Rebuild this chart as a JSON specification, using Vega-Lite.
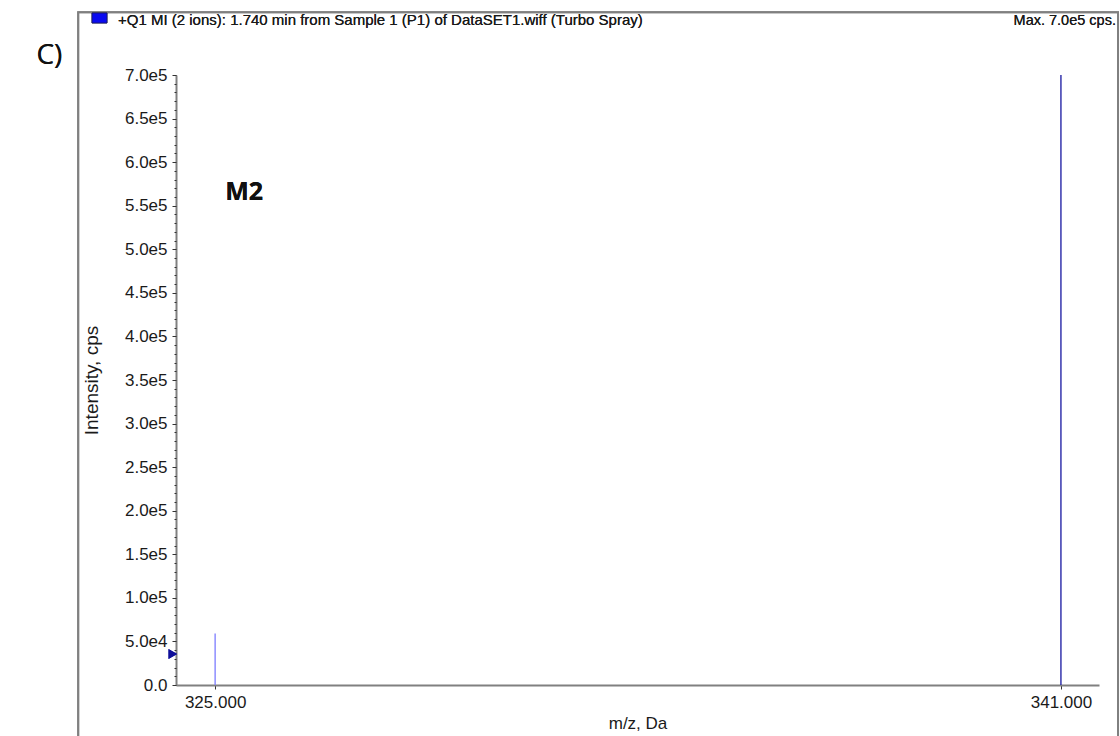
{
  "$schema": "https://vega.github.io/schema/vega-lite/v6.json",
  "width": 923,
  "height": 610,
  "autosize": {"type": "none"},
  "padding": {"left": 176, "top": 75, "right": 21, "bottom": 51},
  "background": "white",
  "config": {
    "view": {"stroke": null},
    "font": "Liberation Sans",
    "text": {"font": "Liberation Sans", "color": "#1a1a1a"}
  },
  "data": {
    "values": [
      {"mz": 325.0, "intensity": 59000, "ion": "light"},
      {"mz": 341.0, "intensity": 700000, "ion": "main"}
    ]
  },
  "resolve": {"axis": {"x": "independent", "y": "independent"}},
  "layer": [
    {
      "mark": {"type": "rule", "strokeWidth": 1.3},
      "encoding": {
        "x": {
          "field": "mz",
          "type": "quantitative",
          "scale": {"domain": [324.26, 341.72], "nice": false, "zero": false},
          "axis": {
            "orient": "bottom",
            "values": [325, 341],
            "format": ".3f",
            "title": "m/z, Da",
            "titleFont": "Liberation Sans",
            "titleFontSize": 17,
            "titleFontWeight": "normal",
            "titleColor": "#1a1a1a",
            "titlePadding": 5,
            "labelFont": "Liberation Sans",
            "labelFontSize": 17,
            "labelColor": "#1a1a1a",
            "labelPadding": 5,
            "labelFlush": false,
            "tickSize": 4,
            "tickColor": "#333333",
            "domainColor": "#808080",
            "domainWidth": 2,
            "grid": false
          }
        },
        "y": {
          "field": "intensity",
          "type": "quantitative",
          "scale": {"domain": [0, 700000], "nice": false},
          "axis": {
            "orient": "left",
            "tickCount": 14,
            "labelExpr": "datum.value == 0 ? '0.0' : replace(format(datum.value, '.1e'), '+', '')",
            "title": "Intensity, cps",
            "titleFont": "Liberation Sans",
            "titleFontSize": 19,
            "titleFontWeight": "normal",
            "titleColor": "#1a1a1a",
            "titlePadding": 23,
            "labelFont": "Liberation Sans",
            "labelFontSize": 17,
            "labelColor": "#1a1a1a",
            "labelPadding": 5,
            "labelFlush": false,
            "tickSize": 4,
            "tickColor": "#333333",
            "domainColor": "#808080",
            "domainWidth": 2,
            "grid": false
          }
        },
        "y2": {"datum": 0},
        "color": {
          "field": "ion",
          "type": "nominal",
          "scale": {"domain": ["light", "main"], "range": ["#7c7cff", "#1616a0"]},
          "legend": null
        }
      }
    },
    {
      "mark": {"type": "rect", "fill": null, "stroke": "#808080", "strokeWidth": 2},
      "encoding": {
        "x": {"datum": 322.41, "type": "quantitative", "axis": null},
        "x2": {"datum": 342.08},
        "y": {"datum": 772000, "type": "quantitative", "axis": null},
        "y2": {"datum": -120000}
      }
    },
    {
      "mark": {"type": "point", "shape": "triangle-right", "filled": true, "size": 100, "color": "#10109a", "opacity": 1},
      "encoding": {
        "x": {"datum": 324.2, "type": "quantitative", "axis": null},
        "y": {
          "datum": 35600,
          "type": "quantitative",
          "axis": {
            "orient": "left",
            "tickCount": 70,
            "labels": false,
            "title": null,
            "tickSize": 2,
            "tickColor": "#333333",
            "domain": false,
            "grid": false
          }
        }
      }
    },
    {
      "mark": {"type": "text", "text": "M2", "font": "Open Sans", "fontSize": 25, "fontWeight": "bold", "align": "left", "baseline": "alphabetic", "color": "#111111"},
      "encoding": {
        "x": {"datum": 325.19, "type": "quantitative", "axis": null},
        "y": {"datum": 556500, "type": "quantitative", "axis": null}
      }
    },
    {
      "mark": {"type": "text", "text": "+Q1 MI (2 ions): 1.740 min from Sample 1 (P1) of DataSET1.wiff (Turbo Spray)", "fontSize": 15, "align": "left", "baseline": "alphabetic"},
      "encoding": {
        "x": {"datum": 323.163, "type": "quantitative", "axis": null},
        "y": {"datum": 757377, "type": "quantitative", "axis": null}
      }
    },
    {
      "mark": {"type": "text", "text": "Max. 7.0e5 cps.", "fontSize": 14.5, "align": "right", "baseline": "alphabetic"},
      "encoding": {
        "x": {"datum": 342.04, "type": "quantitative", "axis": null},
        "y": {"datum": 757377, "type": "quantitative", "axis": null}
      }
    },
    {
      "mark": {"type": "rect", "fill": "#0a0af0", "stroke": "#1a1a5a", "strokeWidth": 0.8},
      "encoding": {
        "x": {"datum": 322.671, "type": "quantitative", "axis": null},
        "x2": {"datum": 322.955},
        "y": {"datum": 771147, "type": "quantitative", "axis": null},
        "y2": {"datum": 759672}
      }
    },
    {
      "mark": {"type": "text", "text": "C)", "font": "Open Sans", "fontSize": 28, "align": "left", "baseline": "alphabetic", "color": "#111111"},
      "encoding": {
        "x": {"datum": 321.62, "type": "quantitative", "axis": null},
        "y": {"datum": 713000, "type": "quantitative", "axis": null}
      }
    }
  ]
}
